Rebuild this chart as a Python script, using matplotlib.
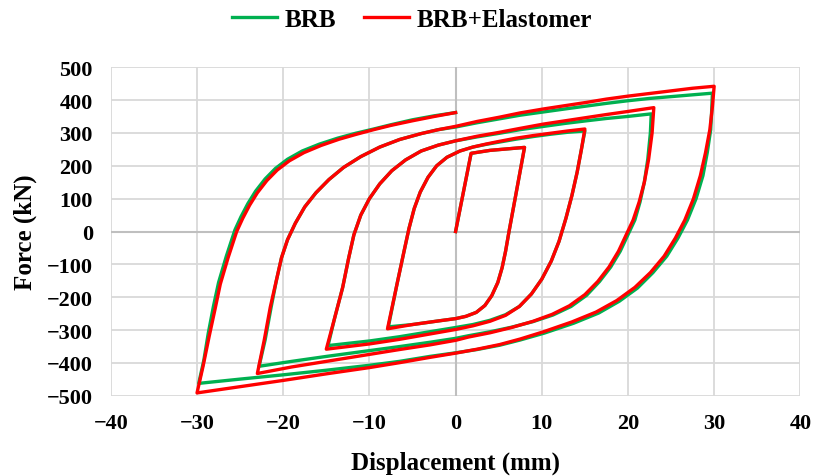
import matplotlib
matplotlib.use("Agg")
import matplotlib.pyplot as plt

# --- hysteresis loops (displacement mm, force kN) ---
# one list per series, one line per loading branch
disp_brb = [
    0, 1.8, 4.0, 8.0,
    7.4, 6.8, 6.2, 5.8, 5.4, 4.9, 4.2, 3.4, 2.4, 1.2, 0, -2, -5, -7.8,
    -6.8, -5.9, -5.4, -4.8, -4.1, -3.2, -2.2, -1.0, 0.5, 2.0, 3.5, 5.0, 7.0, 9.0, 11.0, 13.0, 15.0,
    14.6, 14.1, 13.5, 12.8, 12.0, 11.1, 10.0, 8.8, 7.4, 5.8, 4.0, 2.0, 0, -3, -6.5, -10, -14.8,
    -14.0, -13.1, -12.4, -11.8, -11.0, -10.0, -8.8, -7.4, -5.8, -4.0, -2.0, 0, 2.5, 5.1, 7.5, 10.2, 12.7, 15.2, 17.5, 19.9, 22.7,
    22.6, 22.3, 21.9, 21.4, 20.8, 20.0, 19.1, 18.0, 16.7, 15.2, 13.4, 11.3, 9.0, 6.5, 4.0, 1.5, 0, -3, -6.5, -11, -15, -19, -22.8,
    -22.1, -21.4, -20.8, -20.2, -19.5, -18.6, -17.5, -16.2, -14.7, -13.0, -11.0, -8.8, -6.5, -4.0, -2.0, 0,
    2.5, 5.1, 7.5, 10.2, 12.7, 15.2, 17.5, 20.0, 22.5, 25.3, 27.5, 29.8,
    29.7, 29.6, 29.2, 28.7, 27.9, 26.9, 25.8, 24.5, 22.9, 21.1, 19.0, 16.6, 13.7, 10.3, 7.5, 5.1, 2.5, 0,
    -3, -6.5, -10, -15, -20, -25, -29.8,
    -29.2, -28.7, -28.1, -27.5, -27.0, -26.6, -26.1, -25.6, -24.9, -24.1, -23.2, -22.1, -20.9, -19.5, -17.8,
    -15.8, -13.7, -11.6, -9.5, -7.5, -5.0, -2.5, 0,
]
force_brb = [
    0, 238, 247, 256,
    170, 85, 0, -60, -110, -155, -195, -225, -246, -258, -265, -272, -283, -290,
    -160, -50, 10, 70, 120, 165, 200, 226, 245, 257, 265, 272, 281, 289, 296, 302, 306,
    250, 180, 110, 40, -30, -90, -145, -190, -228, -253, -270, -283, -292, -305, -320, -333, -347,
    -260, -170, -80, -10, 50, 100, 145, 185, 218, 245, 263, 276, 288, 299, 310, 320, 329, 337, 344, 350, 358,
    300, 220, 150, 90, 35, -10, -60, -108, -152, -194, -228, -254, -274, -291, -305, -317, -325, -337, -350, -366, -380, -395, -410,
    -330, -230, -150, -80, -25, 25, 75, 118, 158, 195, 228, 257, 280, 298, 310, 318,
    331, 343, 354, 364, 373, 382, 390, 398, 405, 411, 416, 421,
    360, 310, 240, 170, 100, 35, -20, -75, -125, -172, -212, -248, -279, -309, -330, -346, -359, -369,
    -380, -395, -407, -422, -436, -449, -462,
    -390, -310, -228, -155, -110, -75, -35, 5, 45, 85, 123, 160, 192, 220, 245,
    266, 284, 299, 312, 325, 340, 352, 362,
]

disp_elast = [
    0, 1.8, 4.0, 8.0,
    7.4, 6.8, 6.2, 5.8, 5.4, 4.9, 4.2, 3.4, 2.4, 1.2, 0, -2, -5, -7.9,
    -6.8, -5.9, -5.4, -4.8, -4.1, -3.2, -2.2, -1.0, 0.5, 2.0, 3.5, 5.0, 7.0, 9.0, 11.0, 13.0, 15.0,
    14.6, 14.1, 13.5, 12.8, 12.0, 11.1, 10.0, 8.8, 7.4, 5.8, 4.0, 2.0, 0, -3, -6.5, -10, -15.0,
    -14.0, -13.1, -12.4, -11.8, -11.0, -10.0, -8.8, -7.4, -5.8, -4.0, -2.0, 0, 2.5, 5.1, 7.5, 10.2, 12.7, 15.2, 17.5, 19.9, 23.0,
    22.8, 22.4, 21.9, 21.3, 20.6, 19.8, 18.9, 17.8, 16.5, 15.0, 13.2, 11.2, 9.0, 6.5, 4.0, 1.5, 0, -3, -6.5, -11, -15, -19, -23.0,
    -22.2, -21.5, -20.8, -20.2, -19.5, -18.6, -17.5, -16.2, -14.7, -13.0, -11.0, -8.8, -6.5, -4.0, -2.0, 0,
    2.5, 5.1, 7.5, 10.2, 12.7, 15.2, 17.5, 20.0, 22.5, 25.3, 27.5, 30.0,
    29.8, 29.5, 29.0, 28.4, 27.6, 26.6, 25.5, 24.2, 22.6, 20.8, 18.7, 16.3, 13.5, 10.2, 7.5, 5.1, 2.5, 0,
    -3, -6.5, -10, -15, -20, -25, -30.0,
    -29.3, -28.6, -27.9, -27.3, -26.8, -26.4, -25.9, -25.4, -24.7, -23.9, -23.0, -21.9, -20.7, -19.3, -17.6,
    -15.6, -13.5, -11.5, -9.5, -7.5, -5.0, -2.5, 0,
]
force_elast = [
    0, 238, 247, 256,
    170, 85, 0, -60, -110, -155, -195, -225, -246, -258, -265, -272, -283, -296,
    -160, -50, 10, 70, 120, 165, 200, 226, 245, 257, 266, 274, 284, 292, 299, 306, 312,
    250, 180, 110, 40, -30, -90, -145, -190, -228, -255, -273, -287, -298, -312, -328, -342, -358,
    -260, -170, -80, -10, 50, 100, 145, 185, 218, 245, 263, 276, 290, 302, 314, 327, 337, 347, 356, 365, 377,
    300, 220, 150, 90, 35, -10, -60, -108, -152, -192, -226, -252, -273, -292, -308, -321, -331, -345, -359, -378, -395, -412, -432,
    -330, -230, -150, -80, -25, 25, 75, 118, 158, 195, 228, 257, 280, 298, 310, 320,
    335, 348, 361, 373, 383, 393, 403, 412, 420, 429, 436, 442,
    380, 310, 240, 170, 100, 35, -20, -75, -125, -170, -210, -245, -275, -305, -327, -344, -358, -370,
    -383, -399, -414, -433, -453, -472, -491,
    -410, -320, -235, -160, -115, -80, -40, 0, 40, 80, 118, 155, 187, 215, 240,
    262, 281, 296, 310, 323, 337, 350, 362,
]

x_ticks = [-40, -30, -20, -10, 0, 10, 20, 30, 40]
y_ticks = [-500, -400, -300, -200, -100, 0, 100, 200, 300, 400, 500]

plt.rcParams['font.family'] = ['Liberation Serif', 'DejaVu Serif']
plt.rcParams['font.weight'] = 'bold'

fig = plt.figure(figsize=(8.15, 4.77), dpi=100)
ax = fig.add_axes([0.136, 0.168, 0.846, 0.689])

ax.plot(disp_brb, force_brb, color='#00B050', lw=2.4, label='BRB',
        solid_joinstyle='round', zorder=3)
ax.plot(disp_elast, force_elast, color='#FF0000', lw=2.4, label='BRB+Elastomer',
        solid_joinstyle='round', zorder=4)

ax.set_xlim(-40, 40)
ax.set_ylim(-500, 500)
ax.set_xticks(x_ticks)
ax.set_yticks(y_ticks)
ax.grid(True, color='#D9D9D9', lw=1.3)
ax.axhline(0, color='#BFBFBF', lw=1.5, zorder=1)
ax.axvline(0, color='#BFBFBF', lw=1.5, zorder=1)
ax.set_axisbelow(True)
for s in ax.spines.values():
    s.set_visible(False)
ax.tick_params(length=0, labelsize=16)
ax.tick_params(axis='y', pad=13)
ax.tick_params(axis='x', pad=12)

ax.set_xlabel('Displacement (mm)', fontsize=18, fontweight='bold', labelpad=13)
ax.set_ylabel('Force (kN)', fontsize=18, fontweight='bold', labelpad=7)

fig.legend(loc='center', bbox_to_anchor=(0.5055, 0.958), ncol=2, frameon=False,
           prop={'size': 18, 'weight': 'bold'}, handlelength=1.8,
           handletextpad=0.3, columnspacing=1.1)

fig.savefig('out.png', dpi=100)
